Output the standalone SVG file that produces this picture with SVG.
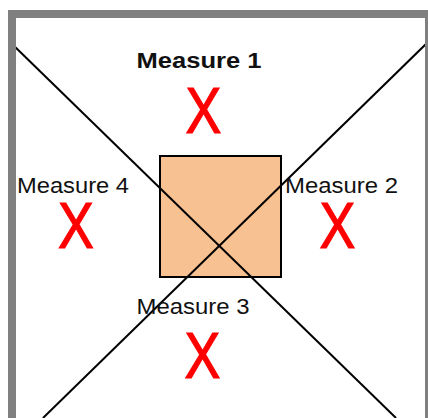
<svg xmlns="http://www.w3.org/2000/svg" width="428" height="418" viewBox="0 0 428 418">
<style>
.lbl{font-family:"Liberation Sans",Arial,sans-serif;font-size:22px;fill:#111;text-anchor:middle}
.x{font-family:"Liberation Sans",Arial,sans-serif;font-size:64px;fill:#ff0000;stroke:#ff0000;stroke-width:1.2;text-anchor:middle}
.ln{stroke:#000;stroke-width:2;fill:none}
</style>
<rect width="428" height="418" fill="#fff"/>
<g id="center-box">
<rect x="160" y="156" width="121" height="121" fill="#f8c191" stroke="#000" stroke-width="2"/>
</g>
<g id="connectors">
<line class="ln" x1="11" y1="43" x2="396" y2="418"/>
<line class="ln" x1="428" y1="42" x2="43" y2="418"/>
</g>
<g id="frame">
<path d="M12 430 V14 H429 V430" fill="none" stroke="#808080" stroke-width="8"/>
</g>
<g id="measure1">
<text class="lbl" x="199" y="68" font-weight="bold" textLength="125" lengthAdjust="spacingAndGlyphs">Measure 1</text>
<text class="x" transform="translate(203.5 133) scale(0.84 1)">X</text>
</g>
<g id="measure2">
<text class="lbl" x="341.5" y="193" textLength="113" lengthAdjust="spacingAndGlyphs">Measure 2</text>
<text class="x" transform="translate(337.5 248) scale(0.84 1)">X</text>
</g>
<g id="measure3">
<text class="lbl" x="193" y="314" textLength="113" lengthAdjust="spacingAndGlyphs">Measure 3</text>
<text class="x" transform="translate(202.5 378) scale(0.84 1)">X</text>
</g>
<g id="measure4">
<text class="lbl" x="73" y="193" textLength="112" lengthAdjust="spacingAndGlyphs">Measure 4</text>
<text class="x" transform="translate(75.8 248) scale(0.84 1)">X</text>
</g>
</svg>
